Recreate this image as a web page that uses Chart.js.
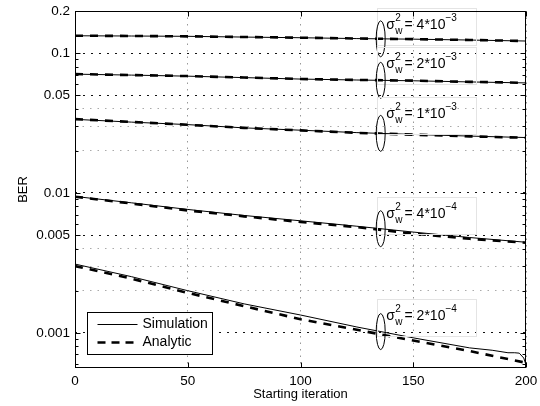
<!DOCTYPE html>
<html><head><meta charset="utf-8">
<script src="https://cdn.jsdelivr.net/npm/chart.js@4.4.1/dist/chart.umd.min.js"></script>
<style>html,body{margin:0;padding:0;background:#fff}</style>
</head><body>
<canvas id="c" width="540" height="406" style="width:540px;height:406px;display:block"></canvas>
<script>
// ---------- data ----------
const iterations = [0, 25, 50, 75, 100, 125, 150, 175, 200];
const iterationsSim5 = [0, 25, 50, 75, 100, 125, 150, 175, 185, 192, 195, 197, 199, 200];

const sim1 = [0.1330, 0.1325, 0.1318, 0.1302, 0.1288, 0.1270, 0.1258, 0.1240, 0.1220];
const ana1 = [0.1332, 0.1326, 0.1318, 0.1303, 0.1289, 0.1272, 0.1259, 0.1241, 0.1221];
const sim2 = [0.0707, 0.0696, 0.0684, 0.0668, 0.0652, 0.0642, 0.0634, 0.0622, 0.0612];
const ana2 = [0.0708, 0.0697, 0.0685, 0.0669, 0.0653, 0.0643, 0.0635, 0.0623, 0.0613];
const sim3 = [0.0336, 0.0321, 0.0308, 0.0292, 0.0281, 0.0270, 0.0262, 0.0255, 0.0249];
const ana3 = [0.0337, 0.0322, 0.0307, 0.0292, 0.0280, 0.0269, 0.0261, 0.0254, 0.0248];
const sim4 = [0.00944, 0.00850, 0.00762, 0.00690, 0.00632, 0.00578, 0.00525, 0.00480, 0.00444];
const ana4 = [0.00940, 0.00840, 0.00750, 0.00680, 0.00620, 0.00570, 0.00512, 0.00470, 0.00440];
const sim5 = [0.00310, 0.00252, 0.00200, 0.00161, 0.00134, 0.00110, 0.00092, 0.00078, 0.00075, 0.00072, 0.00072, 0.000715, 0.00066, 0.00059];
const ana5 = [0.00300, 0.00244, 0.00193, 0.00155, 0.00125, 0.00105, 0.00088, 0.00074, 0.00061];

const seriesNames = ['Simulation', 'Analytic'];
const noiseMantissa = ['4*10', '2*10', '1*10', '4*10', '2*10'];
const noiseExponent = ['\u22123', '\u22123', '\u22123', '\u22124', '\u22124'];
const labelIteration = 138;
const labelBaselineBER = [0.149, 0.0781, 0.0342, 0.00667, 0.00124];

const xTickValues = [0, 50, 100, 150, 200];
const yTickValues = [0.2, 0.1, 0.05, 0.01, 0.005, 0.001];
const yTickLabels = ['0.2', '0.1', '0.05', '0.01', '0.005', '0.001'];
const yMinorGrid = [0.04, 0.03, 0.02, 0.004, 0.003, 0.002];
const yMin = 0.00056, yMax = 0.2;

// ---------- helpers ----------
const FONT = '"Liberation Sans", Arial, Helvetica, sans-serif';
const pts = (xs, ys) => ys.map((v, i) => ({x: xs[i], y: v}));
const near = (a, b) => Math.abs(a - b) / b < 1e-6;
const isLabeled = v => yTickValues.some(t => near(v, t));

const sims = [sim1, sim2, sim3, sim4, sim5];
const anas = [ana1, ana2, ana3, ana4, ana5];
const datasets = [];
sims.forEach((s, i) => datasets.push({
  label: seriesNames[0],
  data: pts(i === 4 ? iterationsSim5 : iterations, s),
  borderColor: '#000', borderWidth: 1, pointRadius: 0, tension: 0, fill: false
}));
anas.forEach((s, i) => datasets.push({
  label: seriesNames[1],
  data: pts(iterations, s),
  borderColor: '#000', borderWidth: 2.6, borderDash: [8, 7], pointRadius: 0, tension: 0, fill: false
}));

function interpY(els, px) {
  for (let i = 0; i < els.length - 1; i++) {
    const a = els[i], b = els[i + 1];
    if (px >= a.x && px <= b.x) {
      const t = (px - a.x) / (b.x - a.x || 1);
      return a.y + t * (b.y - a.y);
    }
  }
  return els[els.length - 1].y;
}

const overlay = {
  id: 'overlay',
  afterDatasetsDraw(chart) {
    const {ctx, scales: {x, y}} = chart;
    ctx.save();
    for (let i = 0; i < 5; i++) {
      const tx = x.getPixelForValue(labelIteration);
      const by = y.getPixelForValue(labelBaselineBER[i]);
      // faint label box
      ctx.strokeStyle = '#e4e4e4'; ctx.lineWidth = 1; ctx.setLineDash([]);
      ctx.strokeRect(Math.round(tx - 9) + 0.5, Math.round(by - 21) + 0.5, 99, 37);
      // ellipse around curves
      const meta = chart.getDatasetMeta(i);
      const ex = tx - 5.5;
      const ey = interpY(meta.data, ex);
      ctx.strokeStyle = '#000'; ctx.lineWidth = 1;
      ctx.beginPath(); ctx.ellipse(ex, ey, 4.5, 18, 0, 0, 2 * Math.PI); ctx.stroke();
      // text sigma^2_w = m*10^e
      ctx.fillStyle = '#000'; ctx.textBaseline = 'alphabetic'; ctx.textAlign = 'left';
      ctx.font = '14px ' + FONT;
      ctx.fillText('\u03c3', tx, by);
      let cx = tx + ctx.measureText('\u03c3').width + 0.5;
      ctx.font = '10px ' + FONT;
      ctx.fillText('2', cx, by - 8);
      ctx.fillText('w', cx, by + 5);
      cx += Math.max(ctx.measureText('2').width, ctx.measureText('w').width) + 2;
      ctx.font = '14px ' + FONT;
      const main = '= ' + noiseMantissa[i];
      ctx.fillText(main, cx, by);
      cx += ctx.measureText(main).width;
      ctx.font = '10px ' + FONT;
      ctx.fillText(noiseExponent[i], cx, by - 8);
    }
    ctx.restore();
  },
  afterDraw(chart) {
    const {ctx, chartArea: a, scales: {x, y}} = chart;
    ctx.save();
    ctx.strokeStyle = '#000'; ctx.lineWidth = 1; ctx.setLineDash([]);
    const L = Math.round(a.left) + 0.5, R = Math.round(a.right) - 0.5;
    const T = Math.round(a.top) + 0.5, B = Math.round(a.bottom) - 0.5;
    // inward ticks
    ctx.beginPath();
    for (let d = -4; d <= 0; d++) {
      for (let k = 1; k <= 9; k++) {
        const v = k * Math.pow(10, d);
        if (v < yMin * 0.999 || v > yMax * 1.001) continue;
        const py = Math.round(y.getPixelForValue(v)) + 0.5;
        const len = isLabeled(v) ? 5 : 3;
        ctx.moveTo(L, py); ctx.lineTo(L + len, py);
        ctx.moveTo(R, py); ctx.lineTo(R - len, py);
      }
    }
    xTickValues.forEach(v => {
      const px = Math.round(x.getPixelForValue(v)) + 0.5;
      ctx.moveTo(px, B); ctx.lineTo(px, B - 5);
      ctx.moveTo(px, T); ctx.lineTo(px, T + 5);
    });
    ctx.stroke();
    // frame
    ctx.strokeRect(L, T, R - L, B - T);
    // legend
    const lx = Math.round(a.left + 12) + 0.5, lw = 125, lh = 42;
    const ly = Math.round(a.bottom - 14 - lh) + 0.5;
    ctx.fillStyle = '#fff'; ctx.fillRect(lx, ly, lw, lh);
    ctx.strokeRect(lx, ly, lw, lh);
    ctx.beginPath(); ctx.lineWidth = 1;
    ctx.moveTo(lx + 10, ly + 12); ctx.lineTo(lx + 50, ly + 12); ctx.stroke();
    ctx.beginPath(); ctx.lineWidth = 2.6; ctx.setLineDash([8, 6]);
    ctx.moveTo(lx + 10, ly + 30); ctx.lineTo(lx + 50, ly + 30); ctx.stroke();
    ctx.setLineDash([]);
    ctx.fillStyle = '#000'; ctx.font = '14px ' + FONT;
    ctx.textBaseline = 'middle'; ctx.textAlign = 'left';
    ctx.fillText(seriesNames[0], lx + 55, ly + 12);
    ctx.fillText(seriesNames[1], lx + 55, ly + 30);
    ctx.restore();
  }
};

Chart.defaults.font.family = FONT;
Chart.defaults.color = '#000';

new Chart(document.getElementById('c'), {
  type: 'line',
  data: {datasets},
  options: {
    responsive: false,
    animation: false,
    devicePixelRatio: 1,
    layout: {padding: {top: 11, right: 14, left: 0, bottom: 0}},
    plugins: {legend: {display: false}, tooltip: {enabled: false}},
    scales: {
      x: {
        type: 'linear', min: 0, max: 200,
        afterFit: s => { s.height = 38; s.paddingLeft = 0; s.paddingRight = 0; },
        afterBuildTicks: s => { s.ticks = xTickValues.map(v => ({value: v})); },
        ticks: {padding: 5, font: {size: 13.5}, callback: v => String(v)},
        grid: {drawTicks: false, color: '#999', lineWidth: 1},
        border: {display: false, dash: [1.5, 5]},
        title: {display: true, text: 'Starting iteration', font: {size: 13}, padding: {top: 0, bottom: 4}}
      },
      y: {
        type: 'logarithmic', min: yMin, max: yMax,
        afterFit: s => { s.width = 75; s.paddingTop = 0; s.paddingBottom = 0; },
        afterBuildTicks: s => {
          const all = yTickValues.concat(yMinorGrid).sort((p, q) => q - p);
          s.ticks = all.map(v => ({value: v}));
        },
        ticks: {
          padding: 5, font: {size: 13.5}, autoSkip: false,
          callback: v => { const i = yTickValues.findIndex(t => near(v, t)); return i >= 0 ? yTickLabels[i] : ''; }
        },
        grid: {
          drawTicks: false, lineWidth: 1,
          color: c => (c.tick && isLabeled(c.tick.value)) ? '#111' : '#aaa'
        },
        border: {
          display: false,
          dash: c => (c.tick && isLabeled(c.tick.value)) ? [2, 6] : [1.5, 6]
        },
        title: {display: true, text: 'BER', font: {size: 13}, padding: {top: 16, bottom: 0}}
      }
    }
  },
  plugins: [overlay]
});
</script>
</body></html>
